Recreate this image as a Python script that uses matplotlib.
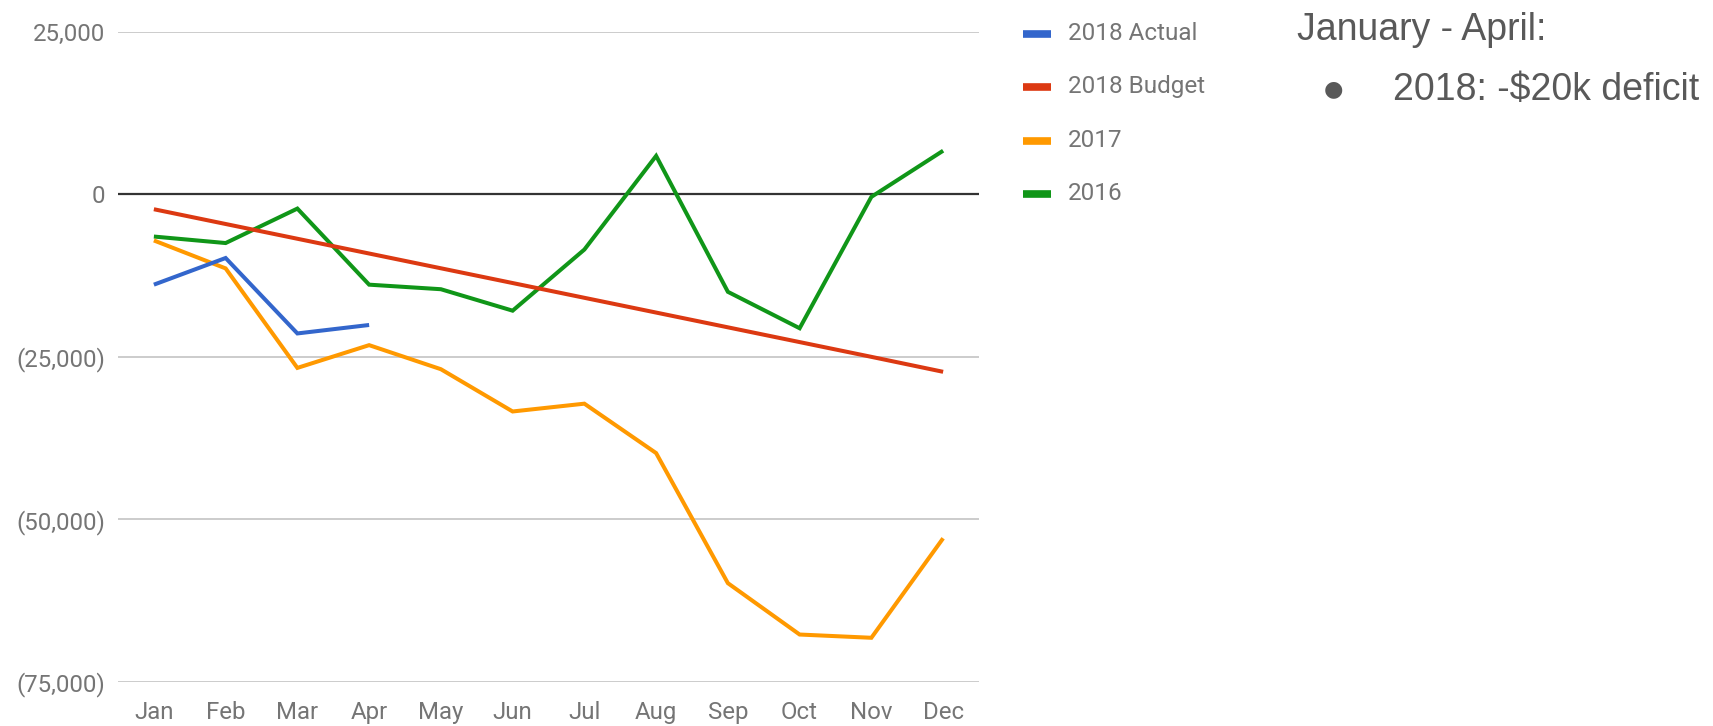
import matplotlib
matplotlib.use("Agg")
import matplotlib.pyplot as plt
from matplotlib.lines import Line2D
from matplotlib.ticker import FuncFormatter

# data
months = ['Jan', 'Feb', 'Mar', 'Apr', 'May', 'Jun', 'Jul', 'Aug', 'Sep', 'Oct', 'Nov', 'Dec']
actual_2018 = [-13900, -9800, -21400, -20100]
budget_2018 = [-2300, -4570, -6840, -9110, -11380, -13650, -15920, -18190, -20460, -22730, -25000, -27300]
y2017 = [-7100, -11400, -26700, -23200, -26900, -33400, -32200, -39800, -59800, -67700, -68200, -52900]
y2016 = [-6500, -7500, -2200, -13900, -14600, -17900, -8500, 5900, -15000, -20600, -400, 6700]

series_names = ['2018 Actual', '2018 Budget', '2017', '2016']
series_vals = [actual_2018, budget_2018, y2017, y2016]
colors = ['#3366cc', '#dc3912', '#ff9900', '#109618']
yticks = [25000, 0, -25000, -50000, -75000]

note_title = 'January - April:'
note_bullet = '2018: -$20k deficit'

W, H = 1713, 726
fig = plt.figure(figsize=(W / 100, H / 100), dpi=100)
ax = fig.add_axes([118 / W, 1 - 682 / H, (979 - 118) / W, (682 - 31.7) / H])

label_font = 'Roboto'
grey = '#757575'

for yv in yticks:
    if yv == 0:
        ax.axhline(yv, color='#333333', lw=1.6, zorder=2)
    else:
        ax.axhline(yv, color='#cccccc', lw=1.4, zorder=1)

# draw 2016 first so that later series sit on top like the original
order = [3, 2, 1, 0]
for i in order:
    vals = series_vals[i]
    ax.plot(range(len(vals)), vals, color=colors[i], lw=2.9, zorder=3 + (3 - i),
            solid_joinstyle='miter', solid_capstyle='butt')

ax.set_xlim(-0.5, len(months) - 0.5)
ax.set_ylim(-75000, 25000)
ax.set_xticks(range(len(months)))
ax.set_xticklabels(months)
ax.set_yticks(yticks)


def fmt(v, pos):
    if v < 0:
        return '({:,.0f})'.format(-v)
    return '{:,.0f}'.format(v)


ax.yaxis.set_major_formatter(FuncFormatter(fmt))
ax.tick_params(axis='both', length=0, labelsize=17.3, labelcolor=grey)
ax.tick_params(axis='y', pad=9)
ax.tick_params(axis='x', pad=13.5)
for lab in ax.get_xticklabels() + ax.get_yticklabels():
    lab.set_fontfamily(label_font)
for s in ax.spines.values():
    s.set_visible(False)

# legend, drawn by hand to match spacing
leg_rows = [33.5, 87, 140.5, 194]
for name, c, yy in zip(series_names, colors, leg_rows):
    yf = 1 - yy / H
    fig.add_artist(Line2D([1023 / W, 1051 / W], [yf, yf], color=c, lw=5.5,
                          solid_capstyle='butt', transform=fig.transFigure))
    fig.text(1068 / W, yf, name, fontsize=17.5, color=grey, family=label_font,
             va='center', ha='left')

# note on the right
note_col = '#595959'
fig.text(1297 / W, 1 - 30 / H, note_title, fontsize=27, color=note_col,
         family='Liberation Sans', va='center', ha='left')
fig.text(1333 / W, 1 - 89 / H, '\u25cf', fontsize=16, color=note_col,
         family='DejaVu Sans', va='center', ha='center')
fig.text(1393 / W, 1 - 90 / H, note_bullet, fontsize=27, color=note_col,
         family='Liberation Sans', va='center', ha='left')

fig.savefig('out.png', dpi=100)
